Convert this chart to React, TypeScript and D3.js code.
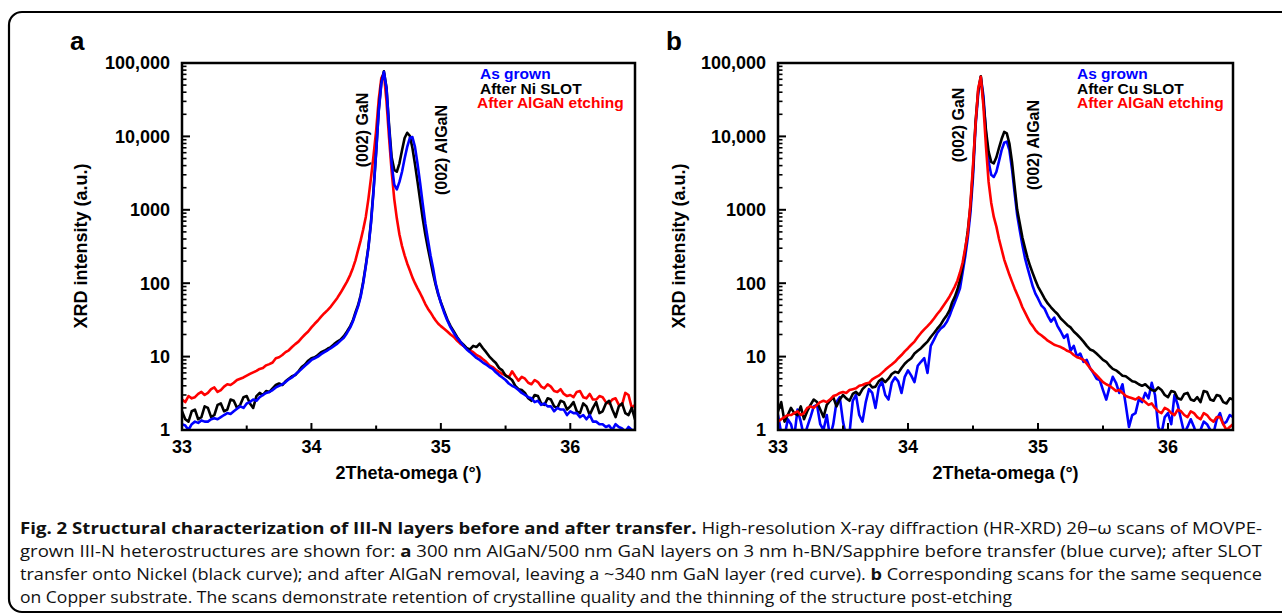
import React from "react";
import * as d3 from "d3";

// sampling positions (2Theta-omega, degrees)
const GRID = [
  33.0, 33.025, 33.05, 33.075, 33.1, 33.125, 33.15, 33.175, 33.2, 33.225,
  33.25, 33.275, 33.3, 33.325, 33.35, 33.375, 33.4, 33.425, 33.45, 33.475,
  33.5, 33.525, 33.55, 33.575, 33.6, 33.625, 33.65, 33.675, 33.7, 33.725,
  33.75, 33.775, 33.8, 33.825, 33.85, 33.875, 33.9, 33.925, 33.95, 33.975,
  34.0, 34.025, 34.05, 34.075, 34.1, 34.125, 34.15, 34.175, 34.2, 34.225,
  34.25, 34.275, 34.3,
  34.32, 34.34, 34.36, 34.38, 34.4, 34.42, 34.44, 34.46, 34.48, 34.5,
  34.52, 34.54, 34.56, 34.58, 34.6, 34.62, 34.64, 34.66, 34.68, 34.7,
  34.72, 34.74, 34.76, 34.78, 34.8, 34.82, 34.84, 34.86, 34.88, 34.9,
  34.92, 34.94, 34.96, 34.98,
  35.0, 35.025, 35.05, 35.075, 35.1, 35.125, 35.15, 35.175, 35.2, 35.225,
  35.25, 35.275, 35.3, 35.325, 35.35, 35.375, 35.4, 35.425, 35.45, 35.475,
  35.5, 35.525, 35.55, 35.575, 35.6, 35.625, 35.65, 35.675, 35.7, 35.725,
  35.75, 35.775, 35.8, 35.825, 35.85, 35.875, 35.9, 35.925, 35.95, 35.975,
  36.0, 36.025, 36.05, 36.075, 36.1, 36.125, 36.15, 36.175, 36.2, 36.225,
  36.25, 36.275, 36.3, 36.325, 36.35, 36.375, 36.4, 36.425, 36.45, 36.475,
  36.5,
];

// Panel a (As grown / After Ni SLOT / After AlGaN etching)
const A_BLUE = [
  1.2, 1.15, 1.0, 1.2, 1.3, 1.25, 1.35, 1.3, 1.3, 1.4,
  1.45, 1.4, 1.5, 1.6, 1.7, 1.65, 1.8, 1.95, 2.1, 2.0,
  2.3, 2.4, 2.6, 2.5, 2.8, 3.0, 3.2, 3.3, 3.5, 3.8,
  4.0, 4.2, 4.5, 4.9, 5.2, 5.7, 6.2, 6.8, 7.5, 8.2,
  9, 9.5, 10, 10.8, 11.5, 12.2, 13, 14, 15, 16.5,
  18, 21, 25,
  30, 38, 48, 65, 100, 170, 300, 650, 1800, 6000,
  22000, 52000, 76000, 45000, 13000, 4200, 2200, 1900, 2400, 3300,
  5000, 7200, 9500, 9800, 7200, 4200, 2300, 1200, 650, 390,
  240, 160, 100, 72,
  54, 40, 31, 25, 21, 18, 16, 14, 12.5, 11.5,
  10.5, 9.6, 9, 8.3, 7.8, 7.2, 6.8, 6.1, 5.6, 5.2,
  4.8, 4.3, 4.0, 3.8, 3.5, 3.2, 3.0, 2.8, 2.7, 2.4,
  2.5, 2.2, 2.3, 2.1, 2.1, 1.8, 2.0, 1.9, 1.9, 1.6,
  1.8, 1.7, 1.7, 1.5, 1.6, 1.4, 1.6, 1.3, 1.3, 1.2,
  1.2, 1.1, 1.15, 1.0, 1.2, 1.1, 1.05, 0.95, 1.1, 1.0,
  1.0,
];
const A_BLACK = [
  1.8, 1.4, 1.3, 1.8, 1.9, 1.4, 1.5, 2.1, 2.0, 1.5,
  1.6, 2.2, 2.3, 1.8, 1.9, 2.6, 2.5, 2.0, 2.2, 2.8,
  2.9, 2.3, 2.0, 2.9, 3.2, 3.0, 3.4, 3.3, 3.7, 4.1,
  4.3, 4.1, 4.6, 5.0, 5.4, 5.6, 6.3, 7.2, 7.8, 8.8,
  9.5, 9.8, 10.5, 11.5, 12, 12.8, 13.5, 14.8, 16, 17,
  19, 22, 26,
  31, 40, 50, 68, 105, 175, 310, 680, 1900, 6200,
  23000, 54000, 77000, 46000, 14000, 5200, 3500, 3300, 4300, 6500,
  9500, 11200, 10200, 7000, 4200, 2400, 1350, 760, 460, 300,
  200, 135, 95, 70,
  55, 42, 32, 26, 22, 18.5, 16, 14.5, 13, 12.5,
  14, 13.5, 15, 13, 11.5, 10, 9, 8.2, 7, 6.5,
  5.5, 5.2, 4.8, 4.0, 3.6, 3.5, 3.2, 2.7, 2.5, 3.0,
  2.9, 2.3, 2.2, 2.7, 2.6, 2.1, 2.0, 2.5, 2.4, 1.9,
  2.1, 2.4, 1.8, 1.7, 2.3, 2.1, 1.6, 2.0, 2.4, 1.7,
  1.8, 2.3, 2.5, 1.9, 1.5, 2.1, 2.3, 1.7, 1.6, 2.0,
  1.4,
];
const A_RED = [
  2.6, 2.4, 2.9, 2.7, 2.8, 3.1, 3.3, 3.0, 3.2, 3.6,
  3.8, 3.3, 3.5, 3.9, 4.2, 4.1, 4.4, 4.8, 5.0, 5.2,
  5.5, 5.8, 6.1, 6.4, 6.8, 7.0, 7.6, 7.9, 8.3, 9.5,
  9.8, 10.5, 11.5, 12.2, 13.5, 14.8, 16, 18, 20, 22,
  25, 28, 31, 35, 39, 43, 48, 55, 63, 74,
  88, 105, 130,
  160, 205, 280, 380, 540, 800, 1400, 2700, 5500, 12000,
  32000, 62000, 72000, 30000, 9500, 3300, 1400, 760, 460, 320,
  240, 186, 150, 120, 100, 85, 73, 62, 52, 45,
  40, 35, 31, 28,
  26, 24, 22, 20, 18.5, 16.5, 15, 14, 13, 12.2,
  11.5, 10.5, 10, 9.2, 8.5, 7.6, 7.2, 6.6, 6.2, 5.8,
  5.6, 5.2, 6.3, 5.4, 4.7, 5.3, 5.0, 4.4, 4.2, 4.8,
  4.5, 3.9, 3.7, 4.2, 3.9, 3.4, 3.3, 3.6, 3.1, 2.9,
  3.0, 2.8, 3.3, 3.4, 2.8, 2.7, 3.1, 2.6, 2.6, 2.9,
  2.8, 2.4, 2.3, 2.6, 2.7, 2.2, 2.2, 3.2, 3.0, 2.0,
  2.2,
];

// Panel b (As grown / After Cu SLOT / After AlGaN etching)
const B_BLUE = [
  1.6, 0.9, 0.8, 1.4, 1.2, 0.8, 1.9, 1.3, 0.8, 1.1,
  1.5, 2.1, 2.2, 1.2, 1.0, 1.6, 0.8, 1.2, 2.4, 2.8,
  1.3, 0.8, 0.9, 2.5, 3.0, 1.6, 1.3, 2.4, 3.6, 3.2,
  2.0, 3.8, 4.6, 3.0, 2.6, 4.4, 5.2, 4.6, 3.2, 5.3,
  6.5, 5.5, 4.5, 7.5, 8.5, 9.5, 6.0, 14, 17, 21,
  24, 26, 30,
  36, 45, 55, 68, 85, 140, 230, 420, 900, 2800,
  14000, 38000, 64000, 36000, 11000, 4500, 3000, 2800, 3300, 4600,
  6500, 8200, 8500, 6500, 3600, 1700, 850, 520, 330, 220,
  160, 120, 90, 72,
  62, 50, 45, 36, 30, 34, 26, 22, 18, 20,
  12, 14, 10, 11, 8.5, 9, 7, 6, 5, 4.8,
  3.5, 2.6, 3.8, 5.3, 4.4, 3.2, 4.2, 2.2, 1.1, 1.6,
  1.7, 2.6, 2.4, 3.2, 2.7, 4.4, 3.0, 1.1, 0.9, 1.5,
  1.7, 1.2, 3.0, 2.2, 1.4, 0.9, 1.1, 1.4, 1.1, 0.8,
  1.0, 1.3, 1.2, 1.0, 0.9, 1.4, 1.7, 1.2, 1.3, 1.6,
  1.5,
];
const B_BLACK = [
  1.8, 2.4, 1.3, 1.6, 2.0, 1.7, 1.6, 2.1, 1.4, 1.8,
  2.2, 2.6, 2.4, 1.9, 1.5, 2.2, 2.5, 2.8, 2.1, 2.6,
  3.0, 2.7, 2.5, 3.1, 3.3, 3.0, 3.6, 4.0, 4.3, 3.8,
  3.9, 4.6, 5.0, 4.5, 5.0, 5.8, 6.2, 6.0, 7.0, 8.0,
  8.8, 9.5, 11, 12, 13, 14.5, 16, 18.5, 21, 24,
  27, 32, 37,
  43, 55, 65, 82, 110, 170, 280, 520, 1100, 3500,
  16000, 42000, 66000, 30000, 12000, 6200, 4500, 4300, 5200, 7000,
  9200, 11500, 11000, 8000, 4500, 2100, 1000, 650, 420, 300,
  220, 170, 136, 110,
  90, 75, 62, 53, 47, 42, 38, 33, 30, 27,
  25, 22, 20, 18, 16, 14, 12.5, 12, 11, 10,
  9, 8.5, 7.5, 6.8, 6.5, 6.0, 5.5, 5.4, 5.0, 4.6,
  4.5, 4.2, 4.0, 4.2, 3.8, 3.5, 3.4, 3.8, 3.5, 3.0,
  2.8, 3.4, 3.3, 2.7, 2.6, 3.1, 3.2, 2.6, 2.5, 2.8,
  2.4, 3.4, 3.3, 2.6, 2.5, 3.0, 2.9, 2.4, 2.3, 2.7,
  2.6,
];
const B_RED = [
  1.3, 1.4, 1.5, 1.6, 1.6, 1.7, 1.8, 1.6, 1.7, 2.0,
  2.1, 2.0, 2.2, 2.4, 2.5, 2.4, 2.6, 2.9, 3.0, 3.2,
  3.3, 3.2, 3.5, 3.6, 3.7, 4.0, 4.1, 4.3, 4.4, 4.9,
  5.2, 5.5, 6.0, 6.6, 7.2, 7.8, 8.5, 9.5, 10.5, 11.8,
  13, 14.5, 16, 18.5, 21, 23.5, 26, 29, 33, 38,
  43, 50, 58,
  66, 77, 90, 108, 140, 190, 300, 480, 1200, 4000,
  15000, 45000, 65000, 26000, 7200, 2400, 1250, 800, 590, 400,
  290, 210, 165, 130, 105, 85, 70, 58, 47, 40,
  34, 29, 26, 23,
  21, 19.5, 18, 16.5, 15.5, 14.5, 14, 13.5, 12.8, 12.0,
  11.5, 10.5, 9.8, 9.5, 9.0, 8.0, 7.0, 6.2, 5.6, 5.0,
  4.5, 4.2, 4.0, 3.7, 3.4, 3.5, 3.2, 2.9, 2.8, 2.7,
  2.6, 2.8, 2.6, 2.4, 2.2, 2.3, 2.0, 1.8, 1.7, 2.0,
  1.9, 1.7, 1.6, 1.9, 1.8, 1.6, 1.5, 1.8, 1.7, 1.5,
  1.4, 1.7, 1.6, 1.4, 1.3, 1.5, 1.5, 1.2, 1.0, 1.1,
  1.2,
];

const X_TICKS = [33, 34, 35, 36];
const X_MINOR = [33.5, 34.5, 35.5];
const Y_TICKS = [1, 10, 100, 1000, 10000, 100000];
const Y_TICK_LABELS = ["1", "10", "100", "1000", "10,000", "100,000"];
const LEGEND_A = ["As grown", "After Ni SLOT", "After AlGaN etching"];
const LEGEND_B = ["As grown", "After Cu SLOT", "After AlGaN etching"];
const COLORS = ["#0000ff", "#000000", "#ff0000"];

const FONT = "'Liberation Sans', Arial, Helvetica, sans-serif";

type PanelProps = {
  id: string;
  letter: string;
  left: number;
  right: number;
  series: number[][]; // blue, black, red
  order: number[];
  legend: string[];
  legendX: number[];
  ganLabel: [number, number];
  alganLabel: [number, number];
  yTitleX: number;
};

function Panel(p: PanelProps) {
  const top = 63;
  const bottom = 430;
  const xs = d3.scaleLinear().domain([33, 36.5]).range([p.left, p.right]);
  const ys = d3.scaleLog().domain([1, 100000]).range([bottom, top]);
  const line = d3
    .line<number>()
    .defined((_, i) => i < GRID.length)
    .x((_, i) => xs(GRID[i]))
    .y((v) => ys(Math.max(v, 0.3)))
    .curve(d3.curveLinear);
  const minorY: number[] = [];
  for (let d = 1; d < 100000; d *= 10) for (let k = 2; k <= 9; k++) minorY.push(d * k);
  const cx = (p.left + p.right) / 2;
  return (
    <g>
      <defs>
        <clipPath id={"clip-" + p.id}>
          <rect x={p.left} y={top} width={p.right - p.left} height={bottom - top} />
        </clipPath>
      </defs>
      <text x={p.left - 112} y={50} fontFamily={FONT} fontWeight="bold" fontSize={26}>
        {p.letter}
      </text>
      <g clipPath={`url(#clip-${p.id})`}>
        {p.order.map((si) => (
          <path
            key={si}
            d={line(p.series[si]) || ""}
            fill="none"
            stroke={COLORS[si]}
            strokeWidth={2.6}
            strokeLinejoin="round"
            strokeLinecap="round"
          />
        ))}
      </g>
      <rect x={p.left} y={top} width={p.right - p.left} height={bottom - top} fill="none" stroke="#000" strokeWidth={2.5} />
      {Y_TICKS.map((t, i) => (
        <g key={"yt" + t}>
          <line x1={p.left} x2={p.left + 8} y1={ys(t)} y2={ys(t)} stroke="#000" strokeWidth={2} />
          <text x={p.left - 12} y={ys(t)} dy="0.36em" textAnchor="end" fontFamily={FONT} fontWeight="bold" fontSize={18}>
            {Y_TICK_LABELS[i]}
          </text>
        </g>
      ))}
      {minorY.map((t) => (
        <line key={"ym" + t} x1={p.left} x2={p.left + 4.5} y1={ys(t)} y2={ys(t)} stroke="#000" strokeWidth={1.6} />
      ))}
      {X_TICKS.map((t) => (
        <g key={"xt" + t}>
          <line x1={xs(t)} x2={xs(t)} y1={bottom} y2={bottom - 7} stroke="#000" strokeWidth={2} />
          <text x={xs(t)} y={453} textAnchor="middle" fontFamily={FONT} fontWeight="bold" fontSize={18}>
            {t}
          </text>
        </g>
      ))}
      {X_MINOR.map((t) => (
        <line key={"xm" + t} x1={xs(t)} x2={xs(t)} y1={bottom} y2={bottom - 4.5} stroke="#000" strokeWidth={2} />
      ))}
      <text x={cx} y={479} textAnchor="middle" fontFamily={FONT} fontWeight="bold" fontSize={18}>
        2Theta-omega (°)
      </text>
      <text
        transform={`translate(${p.yTitleX},246) rotate(-90)`}
        textAnchor="middle"
        fontFamily={FONT}
        fontWeight="bold"
        fontSize={18}
      >
        XRD intensity (a.u.)
      </text>
      {p.legend.map((s, i) => (
        <text key={s} x={p.legendX[i]} y={79 + i * 14.6} fontFamily={FONT} fontWeight="bold" fontSize={15.5} fill={COLORS[i]}>
          {s}
        </text>
      ))}
      <text
        transform={`translate(${p.ganLabel[0]},${p.ganLabel[1]}) rotate(-90)`}
        textAnchor="middle"
        fontFamily={FONT}
        fontWeight="bold"
        fontSize={16}
      >
        (002) GaN
      </text>
      <text
        transform={`translate(${p.alganLabel[0]},${p.alganLabel[1]}) rotate(-90)`}
        textAnchor="middle"
        fontFamily={FONT}
        fontWeight="bold"
        fontSize={16}
      >
        (002) AlGaN
      </text>
    </g>
  );
}

const CAP_FONT = "'Open Sans', 'Noto Sans', sans-serif";

export default function App() {
  return (
    <svg width={1282} height={615} style={{ position: "absolute", left: 0, top: 0, background: "#fff" }}>
      <rect x={9} y={12} width={1300} height={600} rx={13} fill="none" stroke="#000" strokeWidth={2.2} />
      <Panel
        id="a"
        letter="a"
        left={182}
        right={635}
        series={[A_BLUE, A_BLACK, A_RED]}
        order={[2, 1, 0]}
        legend={LEGEND_A}
        legendX={[480, 480, 477]}
        ganLabel={[368, 130]}
        alganLabel={[447, 150]}
        yTitleX={87}
      />
      <Panel
        id="b"
        letter="b"
        left={778}
        right={1233}
        series={[B_BLUE, B_BLACK, B_RED]}
        order={[0, 1, 2]}
        legend={LEGEND_B}
        legendX={[1077, 1077, 1077]}
        ganLabel={[964, 125]}
        alganLabel={[1039, 145]}
        yTitleX={685}
      />
      <g fontFamily={CAP_FONT} fontSize={16.5} fill="#111">
        <text x={20} y={534} textLength={1242} lengthAdjust="spacingAndGlyphs">
          <tspan fontWeight="bold">Fig. 2 Structural characterization of III-N layers before and after transfer.</tspan>
          <tspan> High-resolution X-ray diffraction (HR-XRD) 2θ–ω scans of MOVPE-</tspan>
        </text>
        <text x={20} y={557} textLength={1242} lengthAdjust="spacingAndGlyphs">
          <tspan>grown III-N heterostructures are shown for: </tspan>
          <tspan fontWeight="bold">a</tspan>
          <tspan> 300 nm AlGaN/500 nm GaN layers on 3 nm h-BN/Sapphire before transfer (blue curve); after SLOT</tspan>
        </text>
        <text x={20} y={580} textLength={1242} lengthAdjust="spacingAndGlyphs">
          <tspan>transfer onto Nickel (black curve); and after AlGaN removal, leaving a ~340 nm GaN layer (red curve). </tspan>
          <tspan fontWeight="bold">b</tspan>
          <tspan> Corresponding scans for the same sequence</tspan>
        </text>
        <text x={20} y={603} textLength={992} lengthAdjust="spacingAndGlyphs">
          on Copper substrate. The scans demonstrate retention of crystalline quality and the thinning of the structure post-etching
        </text>
      </g>
    </svg>
  );
}
